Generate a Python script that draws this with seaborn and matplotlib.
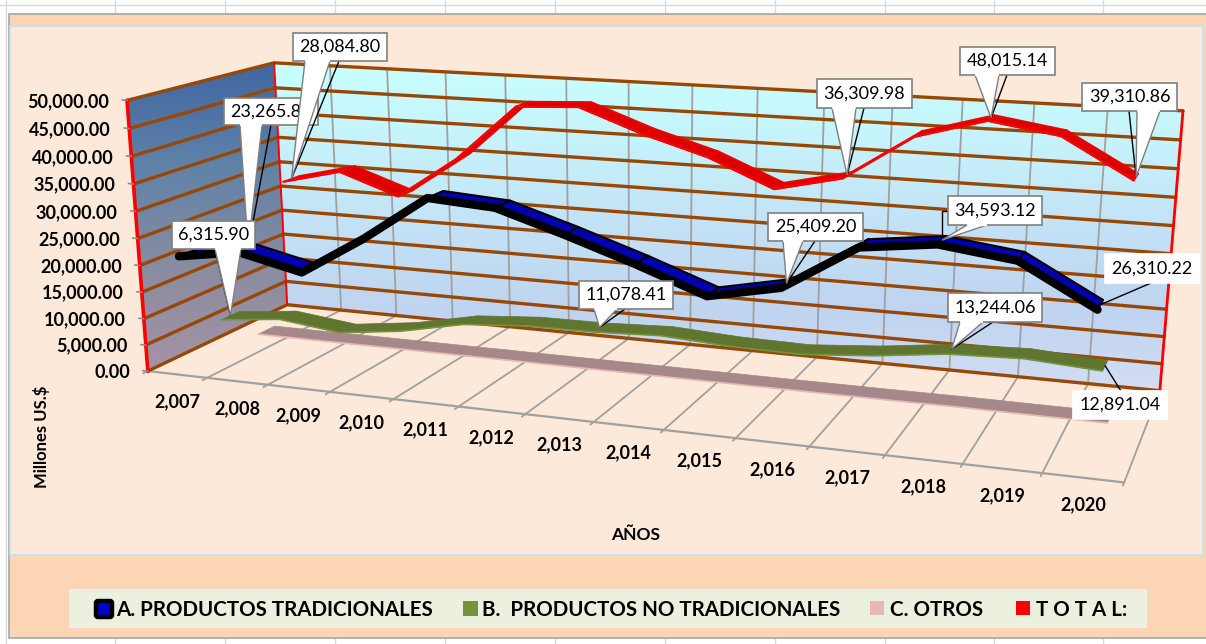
import numpy as np
import pandas as pd
import matplotlib
matplotlib.use("Agg")
import matplotlib.pyplot as plt
from matplotlib.patches import Rectangle, FancyBboxPatch
from matplotlib.colors import LinearSegmentedColormap
import seaborn as sns

# Chart values (millones US$)
years = [2007, 2008, 2009, 2010, 2011, 2012, 2013, 2014, 2015, 2016, 2017, 2018, 2019, 2020]
tradicionales = [21500, 23265.8, 20600, 27700, 35800, 35000, 31300, 27300, 22900, 25409.2, 33100, 34593.12, 33000, 26310.22]
no_tradicionales = [6315.9, 7560, 6160, 7640, 10100, 11000, 11078.41, 11600, 10900, 10700, 11700, 13244.06, 13700, 12891.04]
otros = [120, 110, 130, 120, 140, 130, 120, 110, 100, 110, 120, 178, 130, 110]
total = [28084.8, 30900, 26900, 35000, 45700, 46300, 42000, 38500, 33500, 36309.98, 44500, 48015.14, 46100, 39310.86]
value_ticks = [0, 5000, 10000, 15000, 20000, 25000, 30000, 35000, 40000, 45000, 50000]

sns.set_theme(style="white")
plt.rcParams["font.family"] = ["Lato", "DejaVu Sans"]

# Excel style 3D box: fit a projective camera on the corners of the box
corner_3d = [(0, 0, 0), (0, 1, 0), (0, 0, 1), (0, 1, 1), (1, 1, 1), (1, 0, 1), (1, 0, 0)]
corner_px = [(148, 371), (127, 100), (287, 305), (274, 63), (1183, 111), (1160, 390), (1124, 483)]
A = []
b = []
for (x, y, z), (u, v) in zip(corner_3d, corner_px):
    A.append([x, y, z, 1, 0, 0, 0, 0, -u * x, -u * y, -u * z])
    b.append(u)
    A.append([0, 0, 0, 0, x, y, z, 1, -v * x, -v * y, -v * z])
    b.append(v)
cam = np.linalg.lstsq(np.array(A, float), np.array(b, float), rcond=None)[0]
cam = np.append(cam, 1).reshape(3, 4)


def project(x, value, z):
    # x in box units, value in US$, z is depth (0 front, 1 back)
    x, value, z = np.broadcast_arrays(np.asarray(x, float), np.asarray(value, float) / 50000, np.asarray(z, float))
    pts = np.stack([x, value, z, np.ones_like(x)])
    p = np.tensordot(cam, pts, axes=1)
    return p[0] / p[2], p[1] / p[2]


n = len(years)
# name, values, depth, ribbon face, ribbon edge, seam colour, seam width, front edge width
series = [
    ("T O T A L:", total, 0.875, "#DD0000", "#FF0000", "#F00000", 1.2, 1.6),
    ("C. OTROS", otros, 0.625, "#A6888A", "#E6B9B8", "#A6888A", 0.5, 1.2),
    ("B.  PRODUCTOS NO TRADICIONALES", no_tradicionales, 0.375, "#5F7530", "#76933C", "#5F7530", 0.5, 1.2),
    ("A. PRODUCTOS TRADICIONALES", tradicionales, 0.125, "#0000B0", "#000000", "#000000", 1.5, 6.0),
]
half_depth = 0.062

fig = plt.figure(figsize=(12.06, 6.44), dpi=100)
ax = fig.add_axes([0, 0, 1, 1])
ax.set_axis_off()

# Spreadsheet behind the chart
for gx in [115, 225, 335, 445, 555, 665, 775, 885, 994, 1103]:
    ax.plot([gx, gx], [0, 644], color="#D9D9D9", lw=1, zorder=0)
ax.plot([0, 1206], [5, 5], color="#D9D9D9", lw=1, zorder=0)
ax.plot([6, 6], [0, 644], color="#D9D9D9", lw=1, zorder=0)

# Chart area
ax.add_patch(Rectangle((9, 14), 1200, 624, fc="#FCD5B5", ec="#A6A6A6", lw=1.2, zorder=1))
ax.add_patch(Rectangle((10, 26), 1193, 529, fc="#FDE9D9", ec="#BFE3F0", lw=1.2, zorder=1))


def gradient_poly(xs, ys, colors, stops_top, stops_bottom, z):
    cmap = LinearSegmentedColormap.from_list("g", colors)
    im = ax.imshow(np.linspace(0, 1, 256).reshape(-1, 1), cmap=cmap, aspect="auto",
                   extent=[min(xs), max(xs), stops_bottom, stops_top], zorder=z)
    poly = ax.fill(xs, ys, color="none", zorder=z)[0]
    im.set_clip_path(poly)


ux, uy = project([0, 0, 1, 1], [0, 50000, 50000, 0], [1, 1, 1, 1])
gradient_poly(ux, uy, ["#C8FFFF", "#C6F2FB", "#C3E2F6", "#BFD4F0", "#D3DDF3"], min(uy), max(uy), 2)
lx, ly = project([0, 0, 0, 0], [0, 50000, 50000, 0], [0, 0, 1, 1])
gradient_poly(lx, ly, ["#3F66A0", "#5F82A8", "#8A8CA0", "#A593A5"], min(ly), max(ly), 2)

brown = "#974706"
grid_rows = []
for v in value_ticks:
    gx, gy = project([0, 0, 1], [v, v, v], [0, 1, 1])
    grid_rows += [{"px": a, "py": c, "value": v} for a, c in zip(gx, gy)]
grid_df = pd.DataFrame(grid_rows)
sns.lineplot(data=grid_df, x="px", y="py", units="value", estimator=None, sort=False,
             color=brown, lw=2.4, ax=ax, zorder=4, legend=False)

edges = np.arange(n + 1) / n
for e in edges:
    # back wall verticals and floor lines
    wx, wy = project([e, e, e], [50000, 0, 0], [1, 1, 0])
    ax.plot(wx, wy, color="#A0A0A0", lw=1.3, zorder=3)
    tx, ty = project([e, e], [0, 0], [0, -0.03])
    ax.plot(tx, ty, color="#A0A0A0", lw=1.3, zorder=3)
fx, fy = project([0, 1], [0, 0], [0, 0])
ax.plot(fx, fy, color="#A0A0A0", lw=1.6, zorder=3)

# Red frame of the walls
for (ex, ez, lw) in [(0, 0, 2.6), (0, 1, 1.4), (1, 1, 2.0)]:
    rx, ry = project([ex, ex], [0, 50000], [ez, ez])
    ax.plot(rx, ry, color="#FF0000", lw=lw, zorder=5)

for v in value_ticks:
    tx, ty = project([0], [v], [0])
    ax.plot([tx[0] - 5, tx[0]], [ty[0] - 0.5, ty[0]], color="#8C8C8C", lw=1.2, zorder=5)
    ax.text(tx[0] - 18, ty[0] + 1, f"{v:,.2f}", ha="right", va="center", fontsize=13,
            fontweight="bold", color="black", zorder=6)

mids = (np.arange(n) + 0.5) / n
for m, yr in zip(mids, years):
    tx, ty = project([m], [0], [0])
    ax.text(tx[0], ty[0] + 27, f"{yr:,}", ha="center", va="center", fontsize=13,
            fontweight="bold", color="black", zorder=6)

ax.text(41, 437, "Millones US.$", rotation=90, ha="center", va="center", fontsize=12,
        fontweight="bold", color="black")
ax.text(636, 535, "AÑOS", ha="center", va="center", fontsize=12.5, fontweight="bold", color="black")

# Ribbons, back series first
z_now = 7
centre = {}
for name, vals, depth, face, edge, seam, seam_lw, front_lw in series:
    vals = np.array(vals, float)
    fx, fy = project(mids, vals, depth - half_depth)
    edge_df = pd.DataFrame({"px": fx, "py": fy, "serie": name})
    sns.lineplot(data=edge_df, x="px", y="py", estimator=None, sort=False, color=edge,
                 lw=front_lw, ax=ax, zorder=z_now + 0.5, legend=False)
    for i in range(n - 1):
        x0, y0 = project([mids[i], mids[i + 1]], vals[i:i + 2], depth - half_depth)
        x1, y1 = project([mids[i + 1], mids[i]], vals[i:i + 2][::-1], depth + half_depth)
        ax.fill(np.r_[x0, x1], np.r_[y0, y1], fc=face, ec=seam, lw=seam_lw, joinstyle="round", zorder=z_now)
    centre[name] = project(mids, vals, depth)
    z_now += 1


def tip_of(name, year):
    cx, cy = centre[name]
    i = years.index(year)
    return cx[i], cy[i]


# Data callouts: box(left, top, right, bottom), wedge base, leader start
A_NAME, B_NAME, T_NAME = series[3][0], series[2][0], series[0][0]
callouts = [
    ("23,265.80", A_NAME, 2008, (224, 98, 318, 125), (240, 262), (271, 125)),
    ("28,084.80", T_NAME, 2007, (293, 33, 387, 61), (305, 330), (339, 61)),
    ("6,315.90", B_NAME, 2007, (172, 221, 255, 249), (215, 241), (215, 249)),
    ("11,078.41", B_NAME, 2013, (579, 281, 673, 309), (594, 617), (625, 309)),
    ("25,409.20", A_NAME, 2016, (768, 213, 863, 241), (783, 803), (815, 241)),
    ("36,309.98", T_NAME, 2016, (817, 79, 912, 108), (832, 856), (864, 108)),
    ("48,015.14", T_NAME, 2018, (960, 47, 1055, 75), (975, 999), (1007, 75)),
    ("39,310.86", T_NAME, 2020, (1082, 83, 1177, 111), (1137, 1160), (1129, 111)),
    ("34,593.12", A_NAME, 2018, (948, 196, 1042, 225), (967, 987), None),
    ("13,244.06", B_NAME, 2018, (948, 293, 1042, 322), (960, 983), (993, 322)),
    ("26,310.22", A_NAME, 2020, (1105, 254, 1199, 283), None, (1151, 283)),
    ("12,891.04", B_NAME, 2020, (1073, 391, 1167, 419), None, (1121, 391)),
]
z_now = 20
for text, name, year, box, base, lead in callouts:
    tipx, tipy = tip_of(name, year)
    l, t, r, bt = box
    if lead is not None:
        ax.plot([lead[0], tipx], [lead[1], tipy], color="black", lw=1, zorder=z_now)
    elif text.startswith("34,"):
        ax.plot([l, tipx, tipx], [211, 211, tipy], color="black", lw=1, zorder=z_now)
    if base is not None:
        ax.fill([base[0], base[1], tipx], [bt, bt, tipy], fc="white", ec="#7F7F7F", lw=1, zorder=z_now + 0.1)
    ax.add_patch(Rectangle((l, t), r - l, bt - t, fc="white", ec="#7F7F7F" if base is not None else "white",
                           lw=1.2, zorder=z_now + 0.2))
    if base is not None:
        ax.plot([base[0] + 1, base[1] - 1], [bt, bt], color="white", lw=1.6, zorder=z_now + 0.3)
    ax.text((l + r) / 2, (t + bt) / 2, text, ha="center", va="center", fontsize=13,
            color="black", zorder=z_now + 0.4)
    z_now += 1

# Legend strip
ax.add_patch(Rectangle((69, 589), 1078, 39, fc="#EBF1DE", ec="none", zorder=2))
ax.add_patch(FancyBboxPatch((96, 601), 16, 16, boxstyle="round,pad=0,rounding_size=2", fc="#0000D0", ec="black", lw=3.2, zorder=3))
ax.add_patch(Rectangle((463, 601), 15, 15, fc="#76933C", ec="none", zorder=3))
ax.add_patch(Rectangle((870, 601), 14, 14, fc="#E6B9B8", ec="none", zorder=3))
ax.add_patch(Rectangle((1016, 601), 14, 14, fc="#FF0000", ec="none", zorder=3))
legend_x = [116, 482, 890, 1036]
legend_txt = [series[3][0], series[2][0], series[1][0], series[0][0]]
for lx_, lab in zip(legend_x, legend_txt):
    ax.text(lx_, 610, lab, ha="left", va="center", fontsize=14.8, fontweight="bold", color="black", zorder=3)

ax.set_xlim(0, 1206)
ax.set_ylim(644, 0)
ax.set_xlabel("")
ax.set_ylabel("")
fig.savefig("out.png", dpi=100, facecolor="white")
